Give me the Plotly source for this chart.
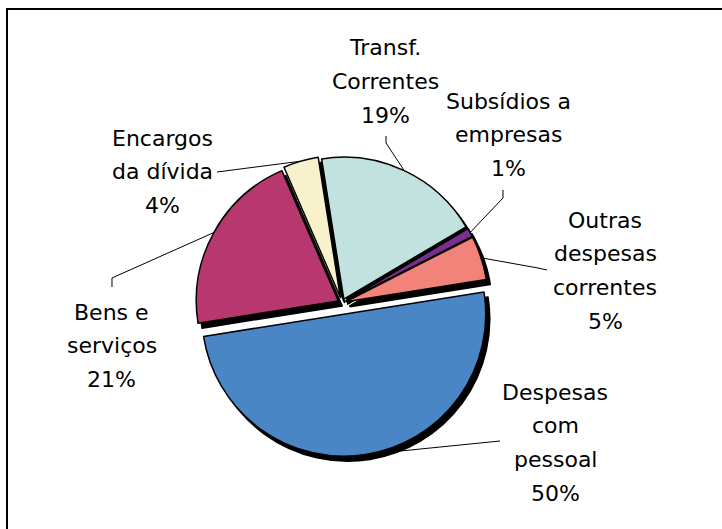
import math
import plotly.graph_objects as go

# ---- data ----
categories = ["Despesas com pessoal", "Bens e serviços", "Encargos da dívida",
              "Transf. Correntes", "Subsídios a empresas", "Outras despesas correntes"]
label_lines = [["Despesas", "com", "pessoal"], ["Bens e", "serviços"], ["Encargos", "da dívida"],
               ["Transf.", "Correntes"], ["Subsídios a", "empresas"], ["Outras", "despesas", "correntes"]]
values = [50, 21, 4, 19, 1, 5]
colors = ["#4A86C5", "#B8376F", "#F8F2CC", "#C1E2DF", "#7A2E8F", "#F2837A"]

# ---- layout / style ----
W, H = 722, 529
CX, CY, R = 342, 303, 142          # pie centre & radius in px
ROT = 81                          # start angle, clockwise from 12 o'clock
pulls = [0.08, 0.03, 0.04, 0.03, 0.03, 0.03]
SHADOW_DX, SHADOW_DY = 4, 5
FONT = "DejaVu Sans"
FS = 22
PITCH = 33.7

# label block positions: centre of first line (px)
label_pos = [(555, 392), (112, 312), (162, 138), (385, 48), (508, 101), (605, 220)]
# leader line points on the label side (px), ordered from label towards the pie
leader_pts = [[(500, 441)], [(112, 287), (112, 278)], [(217, 172)],
              [(386, 136), (386, 143)], [(503, 190), (503, 198)], [(547, 270), (538, 268)]]

maxpull = max(pulls)
half = R * (1 + maxpull)


def dom(cx, cy):
    return dict(x=[(cx - half) / W, (cx + half) / W],
                y=[(H - cy - half) / H, (H - cy + half) / H])


def px(x, y):
    return x / W, 1 - y / H


fig = go.Figure()
# shadow
fig.add_trace(go.Pie(values=values, labels=categories, sort=False, direction="clockwise",
                     rotation=ROT, pull=pulls, domain=dom(CX + SHADOW_DX, CY + SHADOW_DY),
                     marker=dict(colors=["#000000"] * len(values), line=dict(color="#000000", width=1.5)),
                     textinfo="none", hoverinfo="skip", showlegend=False))
# main pie
fig.add_trace(go.Pie(values=values, labels=categories, sort=False, direction="clockwise",
                     rotation=ROT, pull=pulls, domain=dom(CX, CY),
                     marker=dict(colors=colors, line=dict(color="#000000", width=1.5)),
                     textinfo="none", showlegend=False))

total = sum(values)
annotations = []
shapes = []
cum = 0
for i, v in enumerate(values):
    pct = round(100 * v / total)
    mid = math.radians(ROT + 360 * (cum + v / 2) / total)
    cum += v
    ux, uy = math.sin(mid), -math.cos(mid)
    ex = CX + (1 + pulls[i]) * R * ux
    ey = CY + (1 + pulls[i]) * R * uy
    lines = label_lines[i] + [f"{pct}%"]
    lx, ly = label_pos[i]
    for k, t in enumerate(lines):
        x, y = px(lx, ly + k * PITCH)
        annotations.append(dict(x=x, y=y, xref="paper", yref="paper", text=t, showarrow=False,
                                xanchor="center", yanchor="middle",
                                font=dict(family=FONT, size=FS, color="#000000")))
    pts = leader_pts[i] + [(ex, ey)]
    path = "M " + " L ".join(f"{px(a, b)[0]:.5f},{px(a, b)[1]:.5f}" for a, b in pts)
    shapes.append(dict(type="path", path=path, xref="paper", yref="paper",
                       line=dict(color="#000000", width=1)))

# outer frame
x0, y1 = px(7, 9)
shapes.append(dict(type="rect", xref="paper", yref="paper", x0=x0, x1=1.2, y0=-0.2, y1=y1,
                   line=dict(color="#000000", width=2), fillcolor="rgba(0,0,0,0)"))

fig.update_layout(width=W, height=H, margin=dict(l=0, r=0, t=0, b=0),
                  paper_bgcolor="#FFFFFF", plot_bgcolor="#FFFFFF",
                  annotations=annotations, shapes=shapes, showlegend=False)
fig.write_html("out.html", config={"displayModeBar": False},
               post_script="document.body.style.margin='0';document.body.style.overflow='hidden';")
